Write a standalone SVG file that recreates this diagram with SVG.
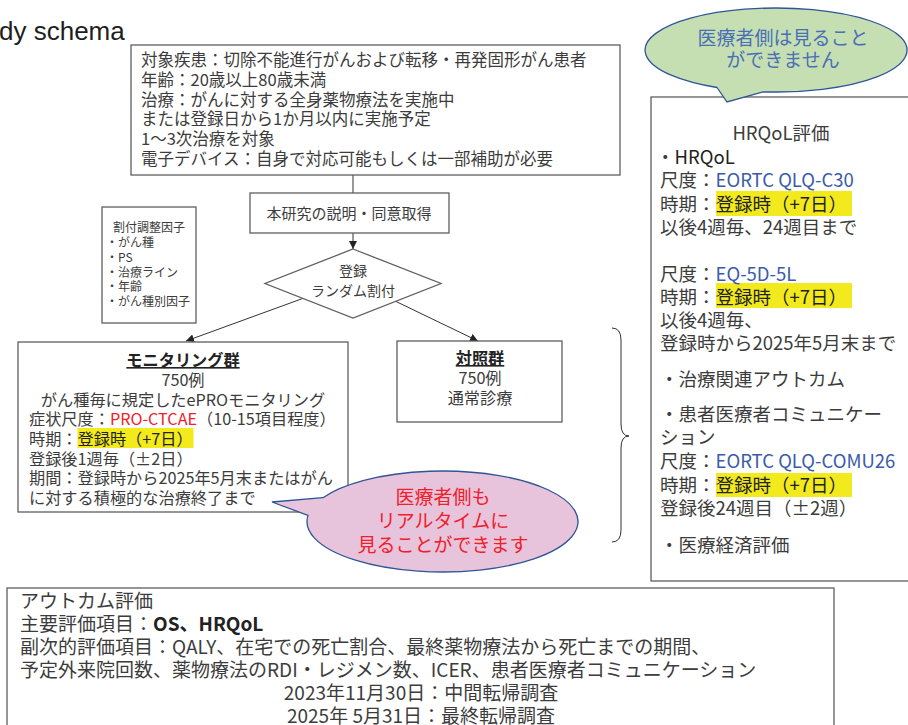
<svg xmlns="http://www.w3.org/2000/svg" width="908" height="725" viewBox="0 0 908 725">
<defs>
<style>
text{font-family:"Noto Sans CJK JP","Noto Sans",sans-serif;fill:#3c3c3c}
.title{font-family:"Liberation Sans",Arial,sans-serif;font-size:26px;fill:#1e1e1e}
.box{fill:#fff;stroke:#5f5f5f;stroke-width:1.3}
.conn{stroke:#333;stroke-width:1;fill:none}
.hl{fill:#F2EA1C}
.f165{font-size:16.5px}
.f16{font-size:16.2px}
.f15{font-size:15px}
.f14{font-size:14px}
.f12{font-size:12px}
.f185{font-size:18.5px}
.f19{font-size:19px}
.mid{text-anchor:middle}
.b{font-weight:bold;fill:#222}
.u{text-decoration:underline}
.blue{fill:#3A5BAA}
.red{fill:#F0202A}
.dk{fill:#222}
</style>
<marker id="arr" viewBox="0 0 10 10" refX="10" refY="5" markerWidth="8" markerHeight="8" orient="auto" markerUnits="userSpaceOnUse"><path d="M0,0 L10,5 L0,10 z" fill="#222"/></marker>
</defs>
<rect width="908" height="725" fill="#fff"/>
<text class="title" x="-1" y="40">dy schema</text>

<g id="connectors">
<line class="conn" x1="353" y1="175" x2="353" y2="193"/>
<line class="conn" x1="353" y1="233" x2="353" y2="249" marker-end="url(#arr)"/>
<line class="conn" x1="304" y1="298" x2="186" y2="341" marker-end="url(#arr)"/>
<line class="conn" x1="395" y1="301" x2="478" y2="341" marker-end="url(#arr)"/>
<path class="conn" d="M612 328 Q621 328 621 340 L621 424 Q621 436 629 436 Q621 436 621 448 L621 530 Q621 542 612 542"/>
</g>

<g id="eligibility">
<rect class="box" x="131" y="45" width="489" height="130"/>
<text class="f165" x="141" y="66">対象疾患：切除不能進行がんおよび転移・再発固形がん患者</text>
<text class="f165" x="141" y="86">年齢：20歳以上80歳未満</text>
<text class="f165" x="141" y="106">治療：がんに対する全身薬物療法を実施中</text>
<text class="f165" x="141" y="125">または登録日から1か月以内に実施予定</text>
<text class="f165" x="141" y="145">1〜3次治療を対象</text>
<text class="f165" x="141" y="165">電子デバイス：自身で対応可能もしくは一部補助が必要</text>
</g>

<g id="consent">
<rect class="box" x="250" y="193" width="199" height="40"/>
<text class="f15 mid" x="349" y="218.5">本研究の説明・同意取得</text>
</g>

<g id="factors">
<rect class="box" x="102" y="207" width="94" height="116"/>
<text class="f12 mid" x="149" y="232">割付調整因子</text>
<text class="f12" x="106" y="247">・がん種</text>
<text class="f12" x="106" y="262">・PS</text>
<text class="f12" x="106" y="277">・治療ライン</text>
<text class="f12" x="106" y="291">・年齢</text>
<text class="f12" x="106" y="306">・がん種別因子</text>
</g>

<g id="randomize">
<polygon class="box" points="353,249 441,283.5 353,318 265,283.5"/>
<text class="f14 mid" x="353" y="276">登録</text>
<text class="f14 mid" x="353" y="296">ランダム割付</text>
</g>

<g id="monitoring">
<rect class="box" x="18" y="342" width="330" height="170"/>
<rect class="hl" x="77.5" y="428" width="116" height="20"/>
<text class="f16 mid b u" x="183" y="366">モニタリング群</text>
<text class="f16 mid" x="183" y="386">750例</text>
<text class="f16 mid" x="183" y="405.5">がん種毎に規定したePROモニタリング</text>
<text class="f16" x="29" y="425">症状尺度：<tspan class="red">PRO-CTCAE</tspan>（10-15項目程度）</text>
<text class="f16" x="29" y="445">時期：<tspan class="dk">登録時（+7日）</tspan></text>
<text class="f16" x="29" y="464.5">登録後1週毎（±2日）</text>
<text class="f16" x="29" y="484">期間：登録時から2025年5月末またはがん</text>
<text class="f16" x="29" y="504">に対する積極的な治療終了まで</text>
</g>

<g id="control">
<rect class="box" x="397" y="341" width="165" height="81"/>
<text class="f16 mid b u" x="480" y="364">対照群</text>
<text class="f16 mid" x="480" y="384">750例</text>
<text class="f16 mid" x="480" y="404">通常診療</text>
</g>

<g id="bubble-pink">
<path d="M323 497.7 L272 502 L308 515.4 A135.5 50.5 0 1 0 323 497.7 Z" fill="#E7C3DC" stroke="#2F5597" stroke-width="1.3"/>
<text class="f19 mid red" x="443" y="504">医療者側も</text>
<text class="f19 mid red" x="443" y="528">リアルタイムに</text>
<text class="f19 mid red" x="443" y="552">見ることができます</text>
</g>

<g id="hrqol">
<rect class="box" x="651" y="97" width="270" height="484"/>
<rect class="hl" x="716" y="191" width="136" height="25"/>
<rect class="hl" x="716" y="283" width="136" height="25"/>
<rect class="hl" x="716" y="473" width="136" height="24"/>
<text class="f185 mid" x="781" y="140">HRQoL評価</text>
<text class="f185" x="656" y="164">・<tspan class="dk">HRQoL</tspan></text>
<text class="f185" x="660" y="187">尺度：<tspan class="blue">EORTC QLQ-C30</tspan></text>
<text class="f185" x="660" y="211">時期：<tspan class="dk">登録時（+7日）</tspan></text>
<text class="f185" x="660" y="234">以後4週毎、24週目まで</text>
<text class="f185" x="660" y="281">尺度：<tspan class="blue">EQ-5D-5L</tspan></text>
<text class="f185" x="660" y="304">時期：<tspan class="dk">登録時（+7日）</tspan></text>
<text class="f185" x="660" y="327">以後4週毎、</text>
<text class="f185" x="660" y="350">登録時から2025年5月末まで</text>
<text class="f185" x="660" y="386">・治療関連アウトカム</text>
<text class="f185" x="660" y="421">・患者医療者コミュニケー</text>
<text class="f185" x="660" y="444">ション</text>
<text class="f185" x="660" y="468">尺度：<tspan class="blue">EORTC QLQ-COMU26</tspan></text>
<text class="f185" x="660" y="492">時期：<tspan class="dk">登録時（+7日）</tspan></text>
<text class="f185" x="660" y="515">登録後24週目（±2週）</text>
<text class="f185" x="660" y="552">・医療経済評価</text>
</g>

<g id="bubble-green">
<path d="M763 91.8 L727 102 L717 87.5 A131 42 0 1 1 763 91.8 Z" fill="#C5DFB3" stroke="#2F5597" stroke-width="1.3"/>
<text class="f19 mid" x="783" y="45" fill="#4A6FB5" style="fill:#4A6FB5">医療者側は見ること</text>
<text class="f19 mid" x="783" y="67" style="fill:#4A6FB5">ができません</text>
</g>

<g id="outcomes">
<rect class="box" x="7" y="588" width="827" height="150"/>
<text class="f19" x="20" y="608">アウトカム評価</text>
<text class="f19" x="20" y="631">主要評価項目：<tspan class="b">OS、HRQoL</tspan></text>
<text class="f19" x="20" y="654">副次的評価項目：QALY、在宅での死亡割合、最終薬物療法から死亡までの期間、</text>
<text class="f19" x="20" y="677">予定外来院回数、薬物療法のRDI・レジメン数、ICER、患者医療者コミュニケーション</text>
<text class="f19 mid" x="421" y="700">2023年11月30日：中間転帰調査</text>
<text class="f19 mid" x="421" y="723">2025年 5月31日：最終転帰調査</text>
</g>
</svg>
